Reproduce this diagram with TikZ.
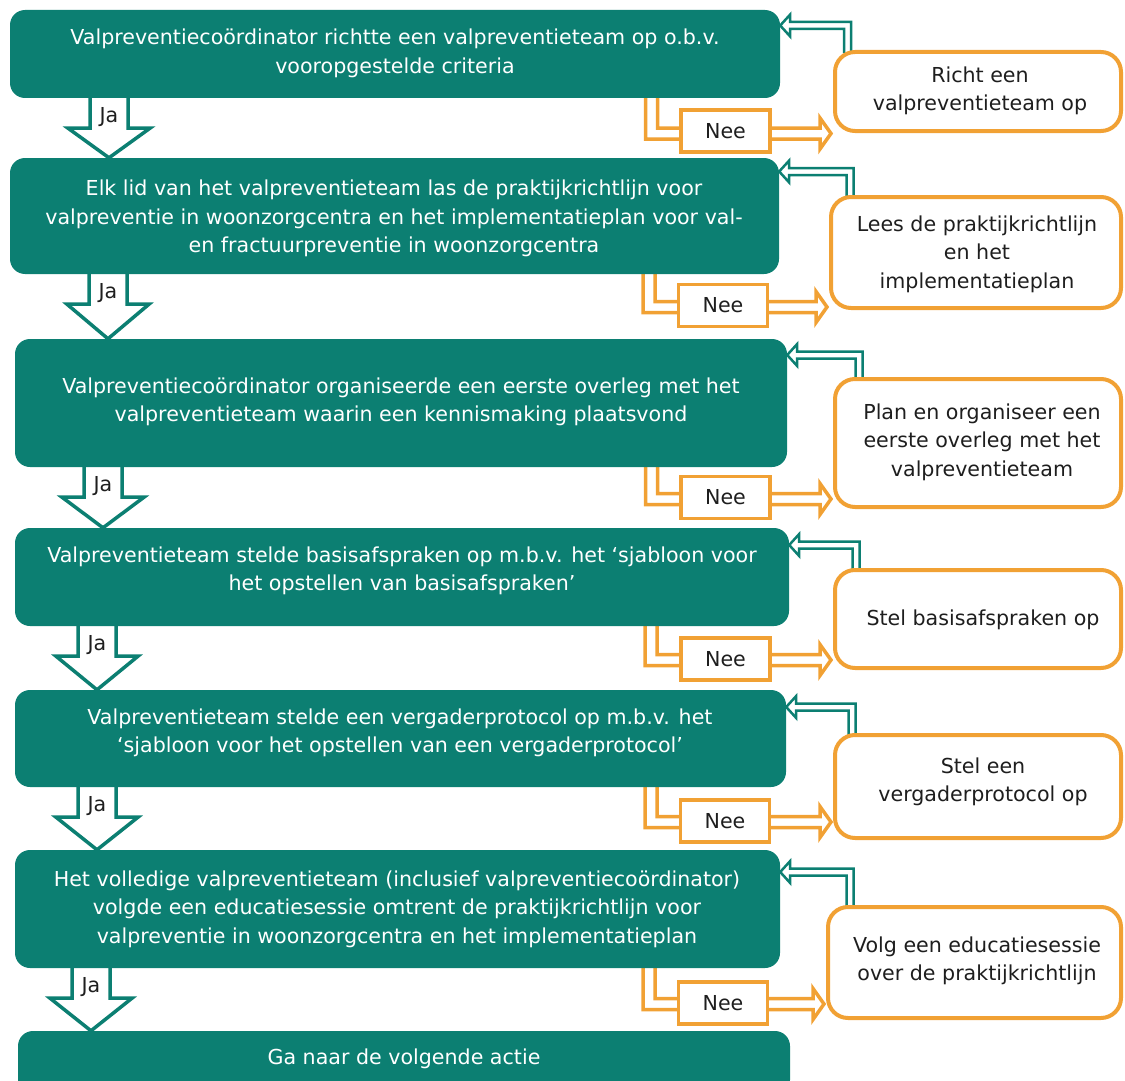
\documentclass[tikz,border=0pt]{standalone}
\usepackage{fontspec}
\setmainfont{DejaVu Sans}
\usetikzlibrary{calc}
\pgfdeclarelayer{bg}
\pgfsetlayers{bg,main}
\definecolor{vpgreen}{RGB}{12,127,114}
\definecolor{vporange}{RGB}{241,161,52}
\definecolor{vptext}{RGB}{30,30,30}
\newcommand\vpfont{\fontsize{20.6}{28.5}\selectfont}
\newcommand\jaarrow[4]{%
  \coordinate (#4c) at (#3,0);
  \path (#4c |- #1.south) coordinate (#4t) (#4c |- #2.north) coordinate (#4p);
  \begin{pgfonlayer}{bg}
  \draw[japoly] ($(#4t)+(-19,-3)$) -- ($(#4t)+(-19,30)$) -- ($(#4t)+(-41,30)$) -- (#4p)
     -- ($(#4t)+(41,30)$) -- ($(#4t)+(19,30)$) -- ($(#4t)+(19,-3)$);
  \end{pgfonlayer}
  \node[jatext] (#4) at ($(#4t)+(0,19)$) {Ja};
}
\newcommand\neeconn[6]{%
  \coordinate (#5b) at (#3,#4);
  \path (#5b |- #1.south) coordinate (#5t) (#5b -| #2.west) coordinate (#5p);
  \begin{pgfonlayer}{bg}
  \draw[neepoly] ($(#5t)+(-6,-3)$) -- ($(#5b)+(-6,5.5)$) -- ($(#5p)+(-13,5.5)$) -- ($(#5p)+(-13,15.5)$)
     -- ($(#5p)+(-2,0)$) -- ($(#5p)+(-13,-15.5)$) -- ($(#5p)+(-13,-5.5)$) -- ($(#5b)+(6,-5.5)$) -- ($(#5t)+(6,-3)$);
  \end{pgfonlayer}
  \node[neebox] (#5) at (#6) {Nee};
}
\newcommand\backconn[5]{%
  \coordinate (#5b) at (#3,#4);
  \path (#5b |- #1.north) coordinate (#5t) (#5b -| #2.east) coordinate (#5p);
  \begin{pgfonlayer}{bg}
  \draw[backpoly] ($(#5t)+(3.5,3)$) -- ($(#5b)+(3.5,-3.5)$) -- ($(#5p)+(10,-3.5)$) -- ($(#5p)+(10,-11)$)
     -- (#5p) -- ($(#5p)+(10,11)$) -- ($(#5p)+(10,3.5)$) -- ($(#5b)+(-3.5,3.5)$) -- ($(#5t)+(-3.5,3)$);
  \end{pgfonlayer}
}
\begin{document}
\begin{tikzpicture}[x=1pt,y=-1pt,
  gbox/.style={fill=vpgreen, draw=none, rounded corners=15pt, inner sep=0pt},
  gtext/.style={text=white, align=center, font=\vpfont, inner sep=0pt},
  obox/.style={fill=white, draw=vporange, line width=4pt, rounded corners=20pt, inner sep=0pt},
  otext/.style={text=vptext, align=center, font=\vpfont, inner sep=0pt},
  neebox/.style={fill=white, draw=vporange, line width=3.5pt, minimum width=89pt, minimum height=42pt, inner sep=0pt, text=vptext, font=\vpfont},
  neepoly/.style={fill=white, draw=vporange, line width=3.5pt},
  backpoly/.style={fill=white, draw=vpgreen, line width=2.5pt},
  japoly/.style={fill=white, draw=vpgreen, line width=3.5pt},
  jatext/.style={text=vptext, font=\vpfont, inner sep=0pt}]
\useasboundingbox (0,0) rectangle (1125,1081);
\clip (0,0) rectangle (1125,1081);

% green boxes
\node[gbox, minimum width=770pt, minimum height=88pt] (g1) at (395,54) {};
\node[gbox, minimum width=769pt, minimum height=116pt] (g2) at (394.5,216) {};
\node[gbox, minimum width=772pt, minimum height=128pt] (g3) at (401,403) {};
\node[gbox, minimum width=774pt, minimum height=98pt] (g4) at (402,577) {};
\node[gbox, minimum width=771pt, minimum height=97pt] (g5) at (400.5,738.5) {};
\node[gbox, minimum width=765pt, minimum height=118pt] (g6) at (397.5,909) {};
\node[gbox, minimum width=772pt, minimum height=64pt] (g7) at (404,1063) {};

\node[gtext] (g1t) at (395,53.5) {Valpreventiecoördinator richtte een valpreventieteam op o.b.v.\\vooropgestelde criteria};
\node[gtext] (g2t) at (394,218.5) {Elk lid van het valpreventieteam las de praktijkrichtlijn voor\\valpreventie in woonzorgcentra en het implementatieplan voor val-\\en fractuurpreventie in woonzorgcentra};
\node[gtext] (g3t) at (401,402) {Valpreventiecoördinator organiseerde een eerste overleg met het\\valpreventieteam waarin een kennismaking plaatsvond};
\node[gtext] (g4t) at (402,571) {Valpreventieteam stelde basisafspraken op m.b.v. het ‘sjabloon voor\\het opstellen van basisafspraken’};
\node[gtext] (g5t) at (400,733) {Valpreventieteam stelde een vergaderprotocol op m.b.v. het\\‘sjabloon voor het opstellen van een vergaderprotocol’};
\node[gtext] (g6t) at (397,909) {Het volledige valpreventieteam (inclusief valpreventiecoördinator)\\volgde een educatiesessie omtrent de praktijkrichtlijn voor\\valpreventie in woonzorgcentra en het implementatieplan};
\node[gtext] (g7t) at (404,1059) {Ga naar de volgende actie};

% orange boxes
\node[obox, minimum width=286pt, minimum height=79pt] (o1) at (978,91.5) {};
\node[obox, minimum width=290pt, minimum height=111pt] (o2) at (976,252.5) {};
\node[obox, minimum width=286pt, minimum height=128pt] (o3) at (978,443) {};
\node[obox, minimum width=286pt, minimum height=98pt] (o4) at (978,619) {};
\node[obox, minimum width=286pt, minimum height=103pt] (o5) at (978,786.5) {};
\node[obox, minimum width=293pt, minimum height=111pt] (o6) at (974.5,962.5) {};

\node[otext] (o1t) at (980,91) {Richt een\\valpreventieteam op};
\node[otext] (o2t) at (977,254) {Lees de praktijkrichtlijn\\en het\\implementatieplan};
\node[otext] (o3t) at (982,442) {Plan en organiseer een\\eerste overleg met het\\valpreventieteam};
\node[otext] (o4t) at (983,620) {Stel basisafspraken op};
\node[otext] (o5t) at (983,782) {Stel een\\vergaderprotocol op};
\node[otext] (o6t) at (977,961) {Volg een educatiesessie\\over de praktijkrichtlijn};

% Ja arrows
\jaarrow{g1}{g2}{109}{ja1}
\jaarrow{g2}{g3}{108}{ja2}
\jaarrow{g3}{g4}{103}{ja3}
\jaarrow{g4}{g5}{97}{ja4}
\jaarrow{g5}{g6}{97}{ja5}
\jaarrow{g6}{g7}{91}{ja6}

% Nee connectors
\neeconn{g1}{o1}{651.5}{133.5}{nee1}{725.5,131}
\neeconn{g2}{o2}{649}{307}{nee2}{723,305.5}
\neeconn{g3}{o3}{651.5}{499}{nee3}{725.5,497.5}
\neeconn{g4}{o4}{651}{660}{nee4}{725.5,659}
\neeconn{g5}{o5}{651}{822}{nee5}{725,821}
\neeconn{g6}{o6}{649}{1004}{nee6}{723,1003}

% return connectors
\backconn{o1}{g1}{847.5}{25.5}{back1}
\backconn{o2}{g2}{850}{171.5}{back2}
\backconn{o3}{g3}{859}{355}{back3}
\backconn{o4}{g4}{856}{545}{back4}
\backconn{o5}{g5}{852}{707}{back5}
\backconn{o6}{g6}{850}{872}{back6}
\end{tikzpicture}
\end{document}
